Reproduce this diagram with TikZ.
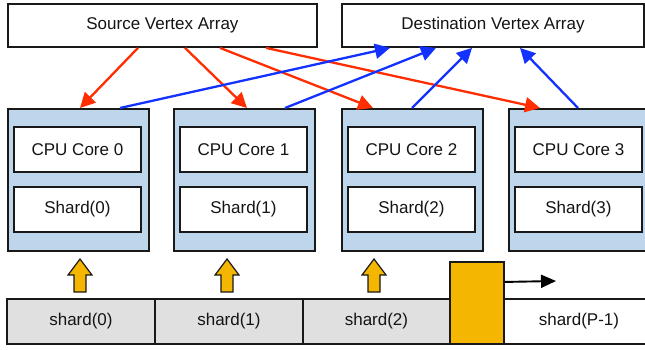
\documentclass[tikz,border=0pt]{standalone}
\usepackage{fontspec}
\setmainfont{Liberation Sans}
\usetikzlibrary{arrows.meta}
\definecolor{coreblue}{RGB}{190,214,236}
\definecolor{cellgray}{RGB}{224,224,224}
\definecolor{gold}{RGB}{244,182,0}
\definecolor{redarr}{RGB}{255,45,0}
\definecolor{bluearr}{RGB}{20,50,255}
\definecolor{edgec}{RGB}{25,25,25}
\begin{document}
\begin{tikzpicture}[x=1pt,y=-1pt,
  box/.style={draw=edgec,line width=1.9pt,fill=white,inner sep=0pt,anchor=north west,
    font=\fontsize{17}{20}\selectfont,text=black!92},
  outer/.style={box,fill=coreblue,minimum width=141pt,minimum height=142pt},
  inner/.style={box,minimum width=127pt,minimum height=45pt},
  cell/.style={box,fill=cellgray,minimum height=45pt},
  redline/.style={draw=redarr,line width=2.3pt,-{Triangle[length=15pt,width=15pt]}},
  blueline/.style={draw=bluearr,line width=2.3pt,-{Triangle[length=15pt,width=15pt]}},
  blockarrow/.style={draw=edgec,line width=1.2pt,fill=gold,line join=miter}
]
\clip (0,0) rectangle (645,350);

% top arrays
\node[box,minimum width=309pt,minimum height=43pt] (src) at (7,3) {Source Vertex Array};
\node[box,minimum width=302pt,minimum height=43pt] (dst) at (341,3) {Destination Vertex Array};

% cores
\foreach \i/\x in {0/7,1/173,2/341,3/508}{
  \node[outer] (core\i) at (\x,108) {};
  \node[inner] (cpu\i) at (\x+6,126) {CPU Core \i};
  \node[inner] (sh\i) at (\x+6,186) {Shard(\i)};
}

% bottom bar
\node[cell,minimum width=148pt] (b0) at (6,298) {shard(0)};
\node[cell,minimum width=148pt] (b1) at (154,298) {shard(1)};
\node[cell,minimum width=147pt] (b2) at (302,298) {shard(2)};
\node[cell,fill=white,minimum width=150pt] (bp) at (503,298) {shard(P-1)};
\node[box,fill=gold,minimum width=54pt,minimum height=82pt] (yel) at (449,261) {};

% moving arrow
\coordinate (mv) at (556,281);
\draw[line width=1.9pt,draw=black,-{Triangle[length=15pt,width=13pt]}] ([yshift=21pt]yel.east) -- (mv);

% yellow block arrows
\foreach \c in {80,227,374}{
  \path[blockarrow] (\c-6,292) -- (\c-6,275) -- (\c-12,275) -- (\c,259) -- (\c+12,275)
     -- (\c+6,275) -- (\c+6,292) -- cycle;
}

% red arrows: source -> cores
\draw[redline] ([xshift=131pt]src.south west) -- ([xshift=73pt]core0.north west);
\draw[redline] ([xshift=178pt]src.south west) -- ([xshift=74pt]core1.north west);
\draw[redline] ([xshift=213pt]src.south west) -- ([xshift=32pt]core2.north west);
\draw[redline] ([xshift=259pt]src.south west) -- ([xshift=32pt]core3.north west);

% blue arrows: cores -> destination
\draw[blueline] ([xshift=113pt]core0.north west) -- ([xshift=49pt]dst.south west);
\draw[blueline] ([xshift=112pt]core1.north west) -- ([xshift=95pt]dst.south west);
\draw[blueline] ([xshift=71pt]core2.north west) -- ([xshift=131pt]dst.south west);
\draw[blueline] ([xshift=70pt]core3.north west) -- ([xshift=179pt]dst.south west);
\end{tikzpicture}
\end{document}
